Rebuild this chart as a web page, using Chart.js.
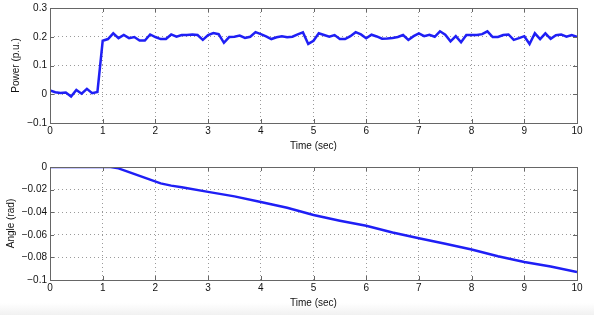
<!DOCTYPE html>
<html>
<head>
<meta charset="utf-8">
<script src="https://cdn.jsdelivr.net/npm/chart.js@4.4.1/dist/chart.umd.min.js"></script>
<style>
  html, body { margin: 0; padding: 0; background: #fff; }
  #wrap { position: relative; width: 594px; height: 315px; overflow: hidden; }
  #wrap canvas { position: absolute; left: 0; }
  #shade { position: absolute; left: 0; top: 303px; width: 594px; height: 12px;
    background: linear-gradient(#fff, #f1f1f1); }
</style>
</head>
<body>
<div id="wrap">
  <div id="shade"></div>
  <canvas id="powerChart" width="594" height="156" style="top:-1px"></canvas>
  <canvas id="angleChart" width="594" height="154" style="top:158px"></canvas>
</div>
<script>
// power samples, every 0.1 s from 0 to 10
const powerTime = [
  0, 0.1, 0.2, 0.3, 0.4, 0.5, 0.6, 0.7, 0.8, 0.9,
  1, 1.1, 1.2, 1.3, 1.4, 1.5, 1.6, 1.7, 1.8, 1.9,
  2, 2.1, 2.2, 2.3, 2.4, 2.5, 2.6, 2.7, 2.8, 2.9,
  3, 3.1, 3.2, 3.3, 3.4, 3.5, 3.6, 3.7, 3.8, 3.9,
  4, 4.1, 4.2, 4.3, 4.4, 4.5, 4.6, 4.7, 4.8, 4.9,
  5, 5.1, 5.2, 5.3, 5.4, 5.5, 5.6, 5.7, 5.8, 5.9,
  6, 6.1, 6.2, 6.3, 6.4, 6.5, 6.6, 6.7, 6.8, 6.9,
  7, 7.1, 7.2, 7.3, 7.4, 7.5, 7.6, 7.7, 7.8, 7.9,
  8, 8.1, 8.2, 8.3, 8.4, 8.5, 8.6, 8.7, 8.8, 8.9,
  9, 9.1, 9.2, 9.3, 9.4, 9.5, 9.6, 9.7, 9.8, 9.9, 10
];
const powerValues = [
  0.013, 0.007, 0.004, 0.006, -0.008, 0.015, 0.002, 0.019, 0.004, 0.008,
  0.186, 0.192, 0.212, 0.195, 0.206, 0.195, 0.199, 0.187, 0.187, 0.208,
  0.199, 0.192, 0.192, 0.208, 0.200, 0.206, 0.206, 0.208, 0.206, 0.189,
  0.206, 0.213, 0.209, 0.179, 0.199, 0.200, 0.204, 0.196, 0.200, 0.216,
  0.209, 0.201, 0.192, 0.198, 0.202, 0.198, 0.200, 0.208, 0.215, 0.175,
  0.186, 0.212, 0.206, 0.200, 0.206, 0.192, 0.192, 0.202, 0.216, 0.208,
  0.195, 0.207, 0.201, 0.193, 0.194, 0.196, 0.199, 0.206, 0.189, 0.202,
  0.212, 0.202, 0.207, 0.200, 0.219, 0.207, 0.184, 0.202, 0.181, 0.206,
  0.206, 0.206, 0.209, 0.219, 0.199, 0.199, 0.206, 0.208, 0.189, 0.195,
  0.202, 0.175, 0.212, 0.192, 0.212, 0.193, 0.205, 0.208, 0.200, 0.206, 0.200
];
// rotor angle, read at irregular times
const angleTime = [0, 1.15, 1.3, 1.5, 1.7, 1.9, 2.1, 2.3, 2.5, 3, 3.5, 4, 4.5, 5, 5.5, 6, 6.5, 7, 7.5, 8, 8.5, 9, 9.5, 10];
const angleValues = [0, 0, -0.0012, -0.0045, -0.0078, -0.0112, -0.0145, -0.0165, -0.018, -0.022, -0.026, -0.031, -0.036,
  -0.0425, -0.0475, -0.052, -0.058, -0.063, -0.068, -0.073, -0.079, -0.084, -0.088, -0.093];

const timeTicks = [0, 1, 2, 3, 4, 5, 6, 7, 8, 9, 10];
const powerTicks = [-0.1, 0, 0.1, 0.2, 0.3];
const angleTicks = [-0.1, -0.08, -0.06, -0.04, -0.02, 0];

const font = { family: "'Liberation Sans', Arial, sans-serif", size: 10 };
const lineColor = "#1f1ff5";

const fmt = (v) => {
  const s = String(Math.round(v * 1000) / 1000);
  return s.replace("-", "\u2212");
};

// solid box round the plot area, like matlab
const framePlugin = {
  id: "frame",
  afterDraw(chart) {
    const { ctx, chartArea: a } = chart;
    ctx.save();
    ctx.strokeStyle = "#666";
    ctx.lineWidth = 1;
    ctx.strokeRect(Math.round(a.left) + 0.5, Math.round(a.top) + 0.5,
      Math.round(a.right - a.left), Math.round(a.bottom - a.top));
    // small inward ticks
    chart.scales.x.ticks.forEach((t, i) => {
      const x = Math.round(chart.scales.x.getPixelForTick(i)) + 0.5;
      ctx.beginPath();
      ctx.moveTo(x, a.bottom); ctx.lineTo(x, a.bottom - 4);
      ctx.moveTo(x, a.top); ctx.lineTo(x, a.top + 4);
      ctx.stroke();
    });
    chart.scales.y.ticks.forEach((t, i) => {
      const y = Math.round(chart.scales.y.getPixelForTick(i)) + 0.5;
      ctx.beginPath();
      ctx.moveTo(a.left, y); ctx.lineTo(a.left + 4, y);
      ctx.moveTo(a.right, y); ctx.lineTo(a.right - 4, y);
      ctx.stroke();
    });
    ctx.restore();
  },
};

function makeChart(id, xs, ys, yTicks, yMin, yMax, yTitle, padTop, titlePad) {
  const points = xs.map((x, i) => ({ x: x, y: ys[i] }));
  return new Chart(document.getElementById(id), {
    type: "line",
    data: {
      datasets: [
        {
          data: points,
          borderColor: lineColor,
          borderWidth: 2.5,
          pointRadius: 0,
          tension: 0,
          fill: false,
        },
      ],
    },
    options: {
      responsive: false,
      animation: false,
      layout: { padding: { left: 0, right: 17, top: padTop, bottom: 3 } },
      plugins: { legend: { display: false }, tooltip: { enabled: false } },
      scales: {
        x: {
          type: "linear",
          min: 0,
          max: 10,
          afterBuildTicks: (s) => { s.ticks = timeTicks.map((v) => ({ value: v })); },
          ticks: { color: "#111", font: font, padding: 2, maxRotation: 0 },
          grid: { color: "#9a9a9a", drawTicks: false },
          border: { display: false, dash: [1, 3] },
          title: { display: true, text: "Time (sec)", color: "#111", font: font, padding: { top: 1, bottom: 0 } },
        },
        y: {
          min: yMin,
          max: yMax,
          afterBuildTicks: (s) => { s.ticks = yTicks.map((v) => ({ value: v })); },
          afterFit: (s) => { s.width = 50; },
          ticks: { color: "#111", font: font, padding: 3, callback: (v) => fmt(v) },
          grid: { color: "#9a9a9a", drawTicks: false },
          border: { display: false, dash: [1, 3] },
          title: { display: true, text: yTitle, color: "#111", font: font, padding: { top: titlePad, bottom: 4 } },
        },
      },
    },
    plugins: [framePlugin],
  });
}

makeChart("powerChart", powerTime, powerValues, powerTicks, -0.1, 0.3, "Power (p.u.)", 7, 10);
makeChart("angleChart", angleTime, angleValues, angleTicks, -0.1, 0, "Angle (rad)", 9, 5);
</script>
</body>
</html>
